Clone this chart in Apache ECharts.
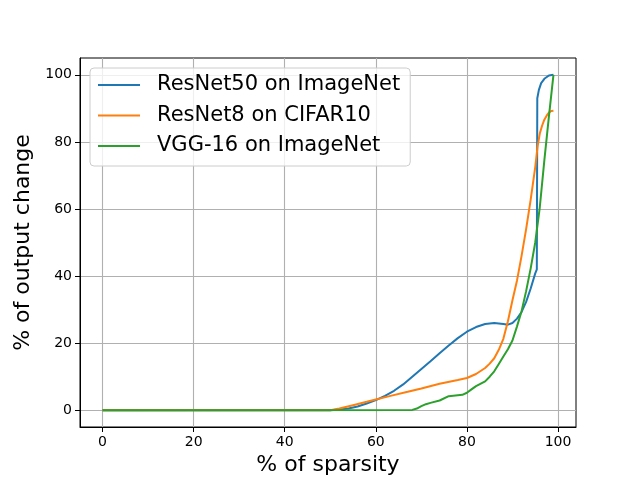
<!DOCTYPE html>
<html><head><meta charset="utf-8">
<script src="https://cdn.jsdelivr.net/npm/echarts@6/dist/echarts.min.js"></script>
<style>html,body{margin:0;padding:0;background:#fff}#c{width:640px;height:480px}</style>
</head><body><div id="c"></div>
<script>
const seriesNames = ['ResNet50 on ImageNet', 'ResNet8 on CIFAR10', 'VGG-16 on ImageNet'];
const xTicks = [0, 20, 40, 60, 80, 100];
const yTicks = [0, 20, 40, 60, 80, 100];

const resnet50X = [0, 50, 52, 54, 56, 58, 60, 62, 64, 66, 68, 70, 72, 74, 76, 78, 80, 82, 84, 86, 88, 89, 90, 91, 92, 93, 94, 95, 95.35, 95.45, 95.8, 96.3, 97, 98, 99];
const resnet50Y = [0, 0, 0.2, 0.5, 1.1, 2, 3, 4.3, 5.8, 7.7, 10, 12.3, 14.6, 17, 19.3, 21.5, 23.4, 24.8, 25.7, 26, 25.7, 25.5, 26, 27.3, 29.3, 32.3, 36.3, 40.8, 42, 93, 95.5, 97.5, 98.8, 99.8, 100];

const resnet8X = [0, 50, 52, 55, 58, 60, 63, 67, 70, 74, 78, 80, 82, 84, 85, 86, 87, 88, 89, 90, 91, 92, 93, 94, 95, 95.5, 96, 96.5, 97, 97.5, 98, 98.5, 99];
const resnet8Y = [0, 0, 0.5, 1.5, 2.5, 3.2, 4.2, 5.5, 6.5, 7.9, 9, 9.6, 10.8, 12.6, 13.9, 15.5, 18, 21.3, 26.5, 32.8, 38.7, 46, 54, 62.8, 72.5, 78.5, 82.5, 84.8, 86.6, 87.8, 88.7, 89.2, 89.3];

const vggX = [0, 68, 69, 70, 71, 72, 74, 76, 77.5, 79, 80, 81, 82, 84, 85, 86, 87, 88, 89, 90, 91, 92, 93, 94, 95, 96, 97, 98, 99];
const vggY = [0, 0.1, 0.5, 1.2, 1.8, 2.2, 2.9, 4.2, 4.4, 4.6, 5.2, 6.2, 7.2, 8.6, 10, 11.6, 13.8, 16, 18.2, 20.8, 25, 29.5, 35.5, 42.3, 50, 60.5, 74.5, 87.5, 100];

const colors = ['#1f77b4', '#ff7f0e', '#2ca02c'];
const zip = (xs, ys) => xs.map((x, i) => [x, ys[i]]);
const seriesData = [zip(resnet50X, resnet50Y), zip(resnet8X, resnet8Y), zip(vggX, vggY)];

const font = 'DejaVu Sans';
const chart = echarts.init(document.getElementById('c'), null, {renderer: 'canvas'});
function axisCfg(min, max, ticks, extra) {
  return Object.assign({
    type: 'value', min: min, max: max,
    nameLocation: 'middle',
    nameTextStyle: {fontFamily: font, fontSize: 22, color: '#000'},
    axisLine: {show: true, onZero: false, lineStyle: {color: '#000', width: 1}},
    axisTick: {show: true, length: 5, customValues: ticks, lineStyle: {color: '#000', width: 1}},
    axisLabel: {fontFamily: font, fontSize: 14, color: '#000', margin: 8, customValues: ticks},
    splitLine: {show: true, lineStyle: {color: '#b0b0b0', width: 1.1}}
  }, extra);
}
chart.setOption({
  animation: false,
  color: colors,
  grid: {left: 80, right: 64, top: 58, bottom: 53, containLabel: false, outerBoundsMode: 'none',
    show: true, borderColor: '#000', borderWidth: 1, backgroundColor: 'transparent'},
  xAxis: axisCfg(-4.95, 103.95, xTicks, {name: '% of sparsity', nameGap: 27}),
  yAxis: axisCfg(-5, 105, yTicks, {name: '% of output change', nameGap: 41, nameRotate: 90}),
  legend: {
    orient: 'vertical', left: 90, top: 68,
    data: seriesNames.map(n => ({name: n, icon: 'rect'})),
    itemWidth: 42, itemHeight: 2, itemGap: 6.5,
    padding: [5, 10, 8, 8],
    backgroundColor: 'rgba(255,255,255,0.8)', borderColor: '#cccccc', borderWidth: 1, borderRadius: 4,
    textStyle: {fontFamily: font, fontSize: 21, color: '#000', lineHeight: 24, padding: [0, 0, 0, 12]}
  },
  series: seriesNames.map((n, i) => ({
    name: n, type: 'line', data: seriesData[i], showSymbol: false, symbol: 'none',
    lineStyle: {width: 2, color: colors[i]}, z: 3 + i
  }))
});
</script></body></html>
